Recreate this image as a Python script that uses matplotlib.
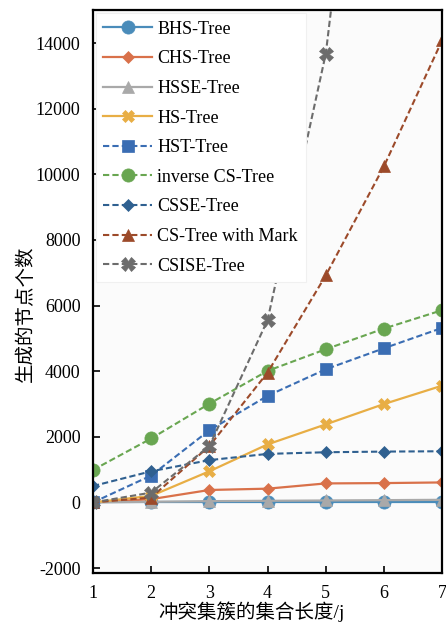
import matplotlib.pyplot as plt
import numpy as np

plt.rcParams['font.family'] = ['Liberation Serif', 'Noto Sans CJK SC']
plt.rcParams['axes.unicode_minus'] = False

# cluster set length j
x = [1, 2, 3, 4, 5, 6, 7]

bhs = [0, 0, 0, 0, 0, 0, 0]
chs = [0, 100, 380, 420, 580, 590, 610]
hsse = [0, 20, 40, 50, 60, 70, 80]
hs = [0, 200, 950, 1770, 2380, 3000, 3560]
hst = [0, 820, 2200, 3250, 4060, 4700, 5320]
inverse_cs = [990, 1950, 3010, 4010, 4670, 5300, 5860]
csse = [500, 950, 1290, 1480, 1530, 1550, 1560]
cs_mark = [0, 150, 1720, 3960, 6920, 10250, 14090]
csise = [0, 300, 1720, 5560, 13680, 28500, 46000]

labels = ['BHS-Tree', 'CHS-Tree', 'HSSE-Tree', 'HS-Tree', 'HST-Tree',
          'inverse CS-Tree', 'CSSE-Tree', 'CS-Tree with Mark', 'CSISE-Tree']
series = [bhs, chs, hsse, hs, hst, inverse_cs, csse, cs_mark, csise]
colors = ['#4a8cba', '#d9714a', '#a9a9a9', '#e8ae45', '#3a6db3',
          '#69a651', '#2f6090', '#9c4a2a', '#6c6c6c']
markers = ['o', 'D', '^', 'X', 's', 'o', 'D', '^', 'X']
styles = ['-', '-', '-', '-', '--', '--', '--', '--', '--']
sizes = [9.5, 6.5, 8, 9, 9, 9.5, 6.5, 8.5, 9.5]

fig = plt.figure(figsize=(4.46, 6.28), dpi=100)
ax = fig.add_axes([0.2085, 0.0876, 0.783, 0.896])
ax.set_facecolor('#fbfbfb')

for vals, lab, c, m, ls, ms in zip(series, labels, colors, markers, styles, sizes):
    ax.plot(x, vals, linestyle=ls, marker=m, color=c, label=lab,
            markersize=ms, linewidth=1.6 if ls == '-' else 1.5,
            markeredgewidth=0.5, markeredgecolor=c, dashes=(3, 1.5) if ls == '--' else (None, None))

ax.set_xlim(1, 7)
ax.set_ylim(-2150, 15000)
ax.set_xticks(x)
ax.set_yticks(np.arange(-2000, 14001, 2000))
ax.tick_params(direction='in', length=5, width=1.2, labelsize=13, pad=9)
for sp in ax.spines.values():
    sp.set_linewidth(1.6)

ax.set_xlabel('冲突集簇的集合长度/j', fontsize=14)
ax.set_ylabel('生成的节点个数', fontsize=14)
ax.xaxis.set_label_coords(0.454, -0.05)
ax.yaxis.set_label_coords(-0.167, 0.46)

leg = ax.legend(loc='upper left', fontsize=13, handlelength=2.7,
                handletextpad=0.3, labelspacing=0.7, borderaxespad=0.15,
                borderpad=0.42, fancybox=False, framealpha=1)
leg.get_frame().set_edgecolor('#f0f0f0')
leg.get_frame().set_linewidth(0.8)

fig.savefig('out.png', dpi=100)
